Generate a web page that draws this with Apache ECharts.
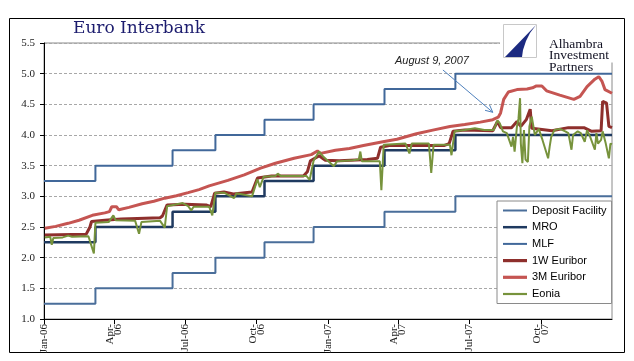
<!DOCTYPE html>
<html><head><meta charset="utf-8">
<script src="https://cdn.jsdelivr.net/npm/echarts@6/dist/echarts.min.js"></script>
<style>html,body{margin:0;padding:0;background:#fff}#c{width:634px;height:361px}</style>
</head><body><div id="c"></div>
<script>
// ---- data ----
const startDay = '2006-01-01';
const endDay = '2007-12-31';
const xTickLabels = {
  '2006-01-01': 'Jan-06', '2006-04-01': 'Apr-\n06', '2006-07-01': 'Jul-06', '2006-10-01': 'Oct-\n06',
  '2007-01-01': 'Jan-07', '2007-04-01': 'Apr-\n07', '2007-07-01': 'Jul-07', '2007-10-01': 'Oct-\n07'
};
const yMin = 1.0, yMax = 5.5, yStep = 0.5;

const policyDates = ['2006-01-01','2006-03-08','2006-06-15','2006-08-09','2006-10-11','2006-12-13','2007-03-14','2007-06-13','2007-12-31'];
const depositRates = [1.25, 1.50, 1.75, 2.00, 2.25, 2.50, 2.75, 3.00, 3.00];
const mroRates     = [2.25, 2.50, 2.75, 3.00, 3.25, 3.50, 3.75, 4.00, 4.00];
const mlfRates     = [3.25, 3.50, 3.75, 4.00, 4.25, 4.50, 4.75, 5.00, 5.00];

const euribor1W = [
  ['2006-01-02',2.37],['2006-02-24',2.38],['2006-03-01',2.50],['2006-03-03',2.59],['2006-03-20',2.61],
  ['2006-04-10',2.63],['2006-05-01',2.64],['2006-05-30',2.65],['2006-06-02',2.68],['2006-06-08',2.86],
  ['2006-07-01',2.87],['2006-07-28',2.86],['2006-08-03',2.83],['2006-08-08',3.05],['2006-08-20',3.07],
  ['2006-09-01',3.04],['2006-09-25',3.07],['2006-10-02',3.30],['2006-10-20',3.33],['2006-11-30',3.33],
  ['2006-12-05',3.40],['2006-12-09',3.58],['2006-12-20',3.66],['2006-12-28',3.59],['2007-01-15',3.58],
  ['2007-02-20',3.60],['2007-03-05',3.62],['2007-03-09',3.80],['2007-03-20',3.83],['2007-05-30',3.83],
  ['2007-06-05',3.86],['2007-06-10',4.06],['2007-06-25',4.08],['2007-07-31',4.07],['2007-08-06',4.22],
  ['2007-08-10',4.12],['2007-08-24',4.12],['2007-08-31',4.22],['2007-09-05',4.14],['2007-09-12',4.25],
  ['2007-09-17',4.42],['2007-09-19',4.11],['2007-10-15',4.07],['2007-11-05',4.12],['2007-11-25',4.12],
  ['2007-12-05',4.06],['2007-12-17',4.07],['2007-12-19',4.55],['2007-12-24',4.52],['2007-12-27',4.14],
  ['2007-12-31',4.12]
];

const euribor3M = [
  ['2006-01-02',2.48],['2006-01-16',2.51],['2006-02-01',2.56],['2006-02-15',2.61],['2006-03-04',2.69],
  ['2006-03-20',2.73],['2006-03-26',2.75],['2006-03-29',2.83],['2006-04-04',2.83],['2006-04-07',2.78],
  ['2006-04-20',2.82],['2006-05-07',2.88],['2006-05-22',2.92],['2006-06-05',2.97],['2006-06-20',3.01],
  ['2006-07-05',3.06],['2006-07-19',3.11],['2006-08-01',3.17],['2006-08-25',3.26],['2006-09-15',3.35],
  ['2006-10-06',3.46],['2006-10-25',3.54],['2006-11-18',3.62],['2006-12-10',3.68],['2006-12-18',3.74],
  ['2006-12-22',3.70],['2007-01-10',3.75],['2007-01-28',3.78],['2007-02-15',3.83],['2007-03-12',3.89],
  ['2007-03-30',3.93],['2007-04-24',4.02],['2007-05-15',4.08],['2007-06-06',4.14],['2007-06-25',4.17],
  ['2007-07-15',4.21],['2007-07-31',4.25],['2007-08-07',4.29],['2007-08-10',4.36],['2007-08-14',4.58],
  ['2007-08-20',4.70],['2007-08-31',4.74],['2007-09-13',4.75],['2007-09-20',4.77],['2007-09-25',4.80],
  ['2007-10-02',4.80],['2007-10-08',4.72],['2007-10-25',4.65],['2007-11-12',4.58],['2007-11-20',4.63],
  ['2007-11-29',4.79],['2007-12-09',4.91],['2007-12-14',4.95],['2007-12-18',4.88],['2007-12-22',4.74],
  ['2007-12-31',4.68]
];

const eonia = [
  ['2006-01-02',2.33],['2006-01-09',2.34],['2006-01-11',2.21],['2006-01-13',2.32],['2006-01-25',2.33],
  ['2006-02-01',2.36],['2006-02-03',2.39],['2006-02-06',2.34],['2006-02-27',2.35],['2006-03-06',2.07],
  ['2006-03-08',2.57],['2006-03-25',2.58],['2006-03-31',2.69],['2006-04-03',2.61],['2006-04-28',2.60],
  ['2006-05-03',2.39],['2006-05-06',2.58],['2006-05-30',2.60],['2006-06-05',2.49],['2006-06-08',2.84],
  ['2006-06-28',2.89],['2006-07-05',2.84],['2006-07-09',2.77],['2006-07-12',2.83],['2006-08-01',2.83],
  ['2006-08-05',2.69],['2006-08-09',3.06],['2006-08-20',3.06],['2006-09-02',2.97],['2006-09-05',3.05],
  ['2006-09-25',3.00],['2006-10-02',3.28],['2006-10-05',3.15],['2006-10-10',3.32],['2006-10-25',3.33],
  ['2006-10-28',3.37],['2006-11-01',3.33],['2006-12-04',3.33],['2006-12-08',3.27],['2006-12-13',3.58],
  ['2006-12-20',3.73],['2006-12-26',3.64],['2007-01-08',3.49],['2007-01-12',3.57],['2007-02-01',3.59],
  ['2007-02-09',3.60],['2007-02-11',3.73],['2007-02-13',3.57],['2007-03-08',3.57],['2007-03-10',3.10],
  ['2007-03-13',3.84],['2007-04-10',3.86],['2007-04-15',3.70],['2007-04-18',3.86],['2007-05-10',3.86],
  ['2007-05-13',3.38],['2007-05-16',3.84],['2007-06-06',3.84],['2007-06-08',3.67],['2007-06-12',4.06],
  ['2007-06-25',4.08],['2007-07-08',4.11],['2007-07-20',4.08],['2007-08-01',4.08],['2007-08-06',4.24],
  ['2007-08-09',4.19],['2007-08-13',4.06],['2007-08-18',4.03],['2007-08-24',3.81],['2007-08-26',3.97],
  ['2007-08-28',3.73],['2007-08-31',4.14],['2007-09-02',4.27],['2007-09-04',4.60],['2007-09-05',3.86],
  ['2007-09-07',3.54],['2007-09-09',4.08],['2007-09-11',3.60],['2007-09-14',3.56],['2007-09-16',4.14],
  ['2007-09-19',4.30],['2007-09-23',4.00],['2007-09-28',4.10],['2007-10-02',3.95],['2007-10-10',3.62],
  ['2007-10-12',3.81],['2007-10-14',3.97],['2007-10-18',4.08],['2007-10-25',4.10],['2007-11-01',4.06],
  ['2007-11-05',4.03],['2007-11-09',3.76],['2007-11-11',4.00],['2007-11-17',4.06],['2007-11-21',4.03],
  ['2007-11-26',3.89],['2007-11-29',4.08],['2007-12-03',3.97],['2007-12-09',3.76],['2007-12-11',4.03],
  ['2007-12-13',3.86],['2007-12-17',3.92],['2007-12-19',4.06],['2007-12-23',3.86],['2007-12-27',3.62],
  ['2007-12-29',3.86],['2007-12-31',3.85]
];

const annotationText = 'August 9, 2007';
const annotationFrom = ['2007-05-28', 5.06];
const annotationTo = ['2007-07-31', 4.37];

// ---- build ----
const days = [];
(function () {
  const s = startDay.split('-').map(Number), e = endDay.split('-').map(Number);
  let t = Date.UTC(s[0], s[1] - 1, s[2]);
  const end = Date.UTC(e[0], e[1] - 1, e[2]);
  while (t <= end) { days.push(new Date(t).toISOString().slice(0, 10)); t += 86400000; }
})();

const isTick = (i, v) => Object.prototype.hasOwnProperty.call(xTickLabels, v);
const pol = arr => policyDates.map((d, i) => [d, arr[i]]);

const C = {
  dep: '#4a6e9a', mro: '#1f3a60', mlf: '#41689a',
  w1: '#8e2f2c', m3: '#c55552', eo: '#77933c'
};

function line(name, data, color, width, step) {
  return {
    name, type: 'line', data, step: step || false, symbol: 'none', showSymbol: false,
    lineStyle: { color, width }, itemStyle: { color }, animation: false, silent: true
  };
}
const barIcon = h => 'path://M0,0 L24,0 L24,' + h + ' L0,' + h + ' Z';

const chart = echarts.init(document.getElementById('c'), null, { renderer: 'canvas' });
chart.setOption({
  animation: false,
  backgroundColor: '#fff',
  grid: { left: 44, right: 22, top: 43, bottom: 42, show: true, borderColor: '#8a8a8a', borderWidth: 1, backgroundColor: 'transparent' },
  xAxis: {
    type: 'category', data: days, boundaryGap: false,
    axisLine: { lineStyle: { color: '#000', width: 1 } },
    axisTick: { show: true, interval: isTick, length: 5, lineStyle: { color: '#000' } },
    axisLabel: {
      interval: isTick, rotate: 90, margin: 5,
      formatter: v => xTickLabels[v] || '',
      fontFamily: 'Liberation Serif', fontSize: 11, color: '#222', lineHeight: 8
    },
    splitLine: { show: false }
  },
  yAxis: {
    type: 'value', min: yMin, max: yMax, interval: yStep,
    axisLine: { show: true, lineStyle: { color: '#000', width: 1 } },
    axisTick: { show: true, length: 4, lineStyle: { color: '#000' } },
    axisLabel: { formatter: v => v.toFixed(1), margin: 9, fontFamily: 'Liberation Serif', fontSize: 11, color: '#222' },
    splitLine: { show: true, lineStyle: { color: '#a8a8a8', type: [3, 2], width: 1 } }
  },
  legend: {
    orient: 'vertical', left: 497, top: 201,
    padding: [4, 5, 4, 6], itemWidth: 24, itemHeight: 14, itemGap: 5.7,
    symbolKeepAspect: true,
    backgroundColor: '#fff', borderColor: '#8a8a8a', borderWidth: 1, borderRadius: 0,
    textStyle: { fontFamily: 'Liberation Sans', fontSize: 11, color: '#000' },
    data: [
      { name: 'Deposit Facility', icon: barIcon(2) },
      { name: 'MRO', icon: barIcon(2.5) },
      { name: 'MLF', icon: barIcon(2) },
      { name: '1W Euribor', icon: barIcon(3.2) },
      { name: '3M Euribor', icon: barIcon(3.2) },
      { name: 'Eonia', icon: barIcon(2.2) }
    ],
    selectedMode: false
  },
  series: [
    line('Deposit Facility', pol(depositRates), C.dep, 2, 'end'),
    line('MRO', pol(mroRates), C.mro, 2.5, 'end'),
    line('MLF', pol(mlfRates), C.mlf, 2, 'end'),
    line('1W Euribor', euribor1W, C.w1, 3),
    line('3M Euribor', euribor3M, C.m3, 3),
    line('Eonia', eonia, C.eo, 2)
  ]
});

// annotation & decorations
const p0 = chart.convertToPixel({ gridIndex: 0 }, [days.indexOf(annotationFrom[0]), annotationFrom[1]]);
const p1 = chart.convertToPixel({ gridIndex: 0 }, [days.indexOf(annotationTo[0]), annotationTo[1]]);
const ang = Math.atan2(p1[1] - p0[1], p1[0] - p0[0]);
const ah = 8, aw = 0.45;
const headA = [p1[0] - ah * Math.cos(ang - aw), p1[1] - ah * Math.sin(ang - aw)];
const headB = [p1[0] - ah * Math.cos(ang + aw), p1[1] - ah * Math.sin(ang + aw)];

chart.setOption({
  graphic: [
    { type: 'rect', z: 0, silent: true, shape: { x: 9.5, y: 18.5, width: 615, height: 334 }, style: { fill: 'none', stroke: '#000', lineWidth: 1 } },
    { type: 'text', z: 100, silent: true, x: 73, y: 29, style: { text: 'Euro Interbank', font: '17px "DejaVu Serif"', fill: '#1c1c6e', verticalAlign: 'middle' } },
    // logo
    { type: 'rect', z: 100, silent: true, shape: { x: 500, y: 20, width: 124, height: 42.5 }, style: { fill: '#fff', stroke: 'none' } },
    { type: 'rect', z: 101, silent: true, shape: { x: 503.5, y: 24.5, width: 33, height: 33 }, style: { fill: '#fff', stroke: '#c8c8c8', lineWidth: 1 } },
    { type: 'polygon', z: 102, silent: true, shape: { points: [[536, 25], [505, 57], [522, 57], [523, 50], [526, 41], [530, 33]] }, style: { fill: '#1c2a80' } },
    { type: 'text', z: 102, silent: true, x: 549, y: 37, style: { text: 'Alhambra', font: '13.5px "Liberation Serif"', fill: '#111122', verticalAlign: 'alphabetic' } },
    { type: 'text', z: 102, silent: true, x: 549, y: 48.5, style: { text: 'Investment', font: '13.5px "Liberation Serif"', fill: '#111122', verticalAlign: 'alphabetic' } },
    { type: 'text', z: 102, silent: true, x: 549, y: 60, style: { text: 'Partners', font: '13.5px "Liberation Serif"', fill: '#111122', verticalAlign: 'alphabetic' } },
    // annotation
    { type: 'text', z: 100, silent: true, x: p0[0] - 48, y: p0[1] - 9, style: { text: annotationText, font: 'italic 11px "Liberation Sans"', fill: '#222', verticalAlign: 'middle' } },
    { type: 'line', z: 100, silent: true, shape: { x1: p0[0], y1: p0[1], x2: p1[0], y2: p1[1] }, style: { stroke: '#4f81bd', lineWidth: 1 } },
    { type: 'polyline', z: 100, silent: true, shape: { points: [headA, p1, headB] }, style: { stroke: '#4f81bd', lineWidth: 1, fill: 'none' } }
  ]
});
</script>
</body></html>
